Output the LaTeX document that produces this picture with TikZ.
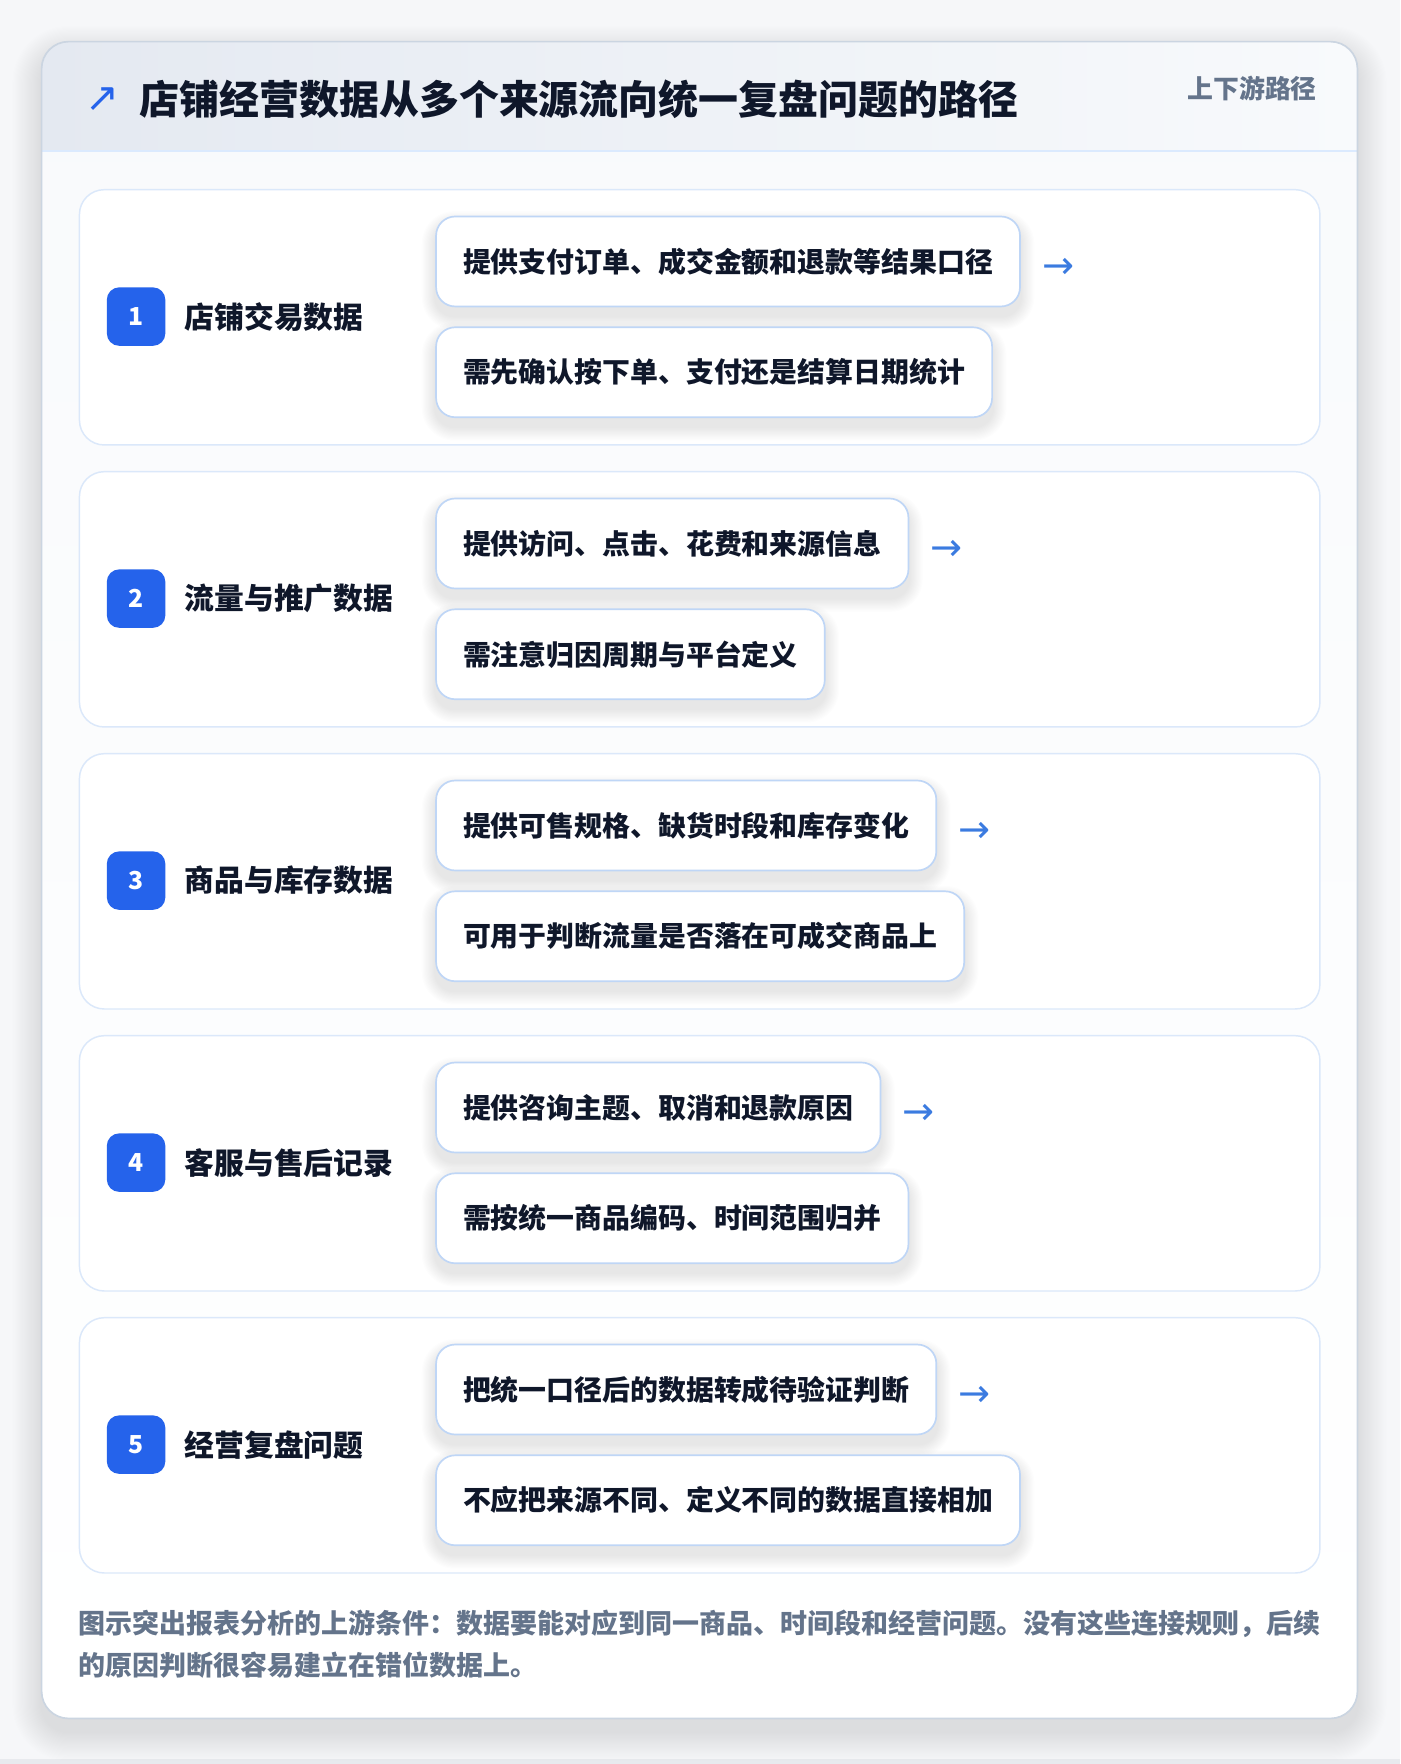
\documentclass[tikz,border=0pt]{standalone}
\usepackage{fontspec}
\setmainfont{Noto Sans CJK SC}[BoldFont={Noto Sans CJK SC Black}]
\newfontfamily\symfont{DejaVu Sans}
\usetikzlibrary{calc}
\definecolor{pagebg}{HTML}{F6F7F9}
\definecolor{cardline}{HTML}{CBD5E1}
\definecolor{bodytop}{HTML}{F8FAFC}
\definecolor{hdrL}{HTML}{E4E9F1}
\definecolor{hdrR}{HTML}{F8FAFC}
\definecolor{hdrline}{HTML}{DBEAFE}
\definecolor{panelline}{HTML}{DBE8FA}
\definecolor{boxline}{HTML}{BFD6F6}
\definecolor{badgeblue}{HTML}{2563EB}
\definecolor{ink}{HTML}{0F172A}
\definecolor{slate}{HTML}{64748B}
\definecolor{arrowblue}{HTML}{3B7BE0}
\definecolor{strip}{HTML}{E8EAEE}
\tikzset{
  panel/.style={draw=panelline, line width=1.3pt, fill=white, rounded corners=22pt,
    minimum width=1103pt, minimum height=227pt, anchor=north west, inner sep=0pt},
  badge/.style={fill=badgeblue, rounded corners=11pt, minimum size=52pt, inner sep=0pt,
    text=white, font=\fontsize{22}{22}\selectfont\bfseries},
  lbl/.style={anchor=west, inner sep=0pt, text=ink, font=\fontsize{26.5}{26.5}\selectfont\bfseries},
  item/.style={anchor=west, draw=boxline, line width=1.5pt, fill=white, rounded corners=17pt,
    minimum height=80pt, inner xsep=24pt, inner ysep=0pt, text=ink,
    font=\fontsize{24.8}{24.8}\selectfont\bfseries},
  ghost/.style={item, draw=none, fill=none},
  arr/.style={anchor=west, inner sep=0pt, text=arrowblue, font=\symfont\fontsize{34}{34}\selectfont},
  note/.style={anchor=west, inner sep=0pt, text=slate, font=\fontsize{24}{24}\selectfont\bfseries},
}
\newcommand{\boxshadow}[1]{%
  \foreach \k in {1,...,12}{%
    \fill[black, opacity=0.007, rounded corners=17pt+\k pt]
      ($(#1.north west)+(-\k,8-\k)$) rectangle ($(#1.south east)+(\k,8+\k)$);
  }%
}
\newcommand{\mkrow}[5]{%
  \node[panel] (p#1) at (70,#2) {};
  \node[badge] (n#1) at (121,#2+113.5) {#1};
  \node[lbl] (l#1) at (164,#2+113.5) {#3};
  \node[ghost] (ga#1) at (387,#2+64.5) {\phantom{#4}};
  \node[ghost] (gb#1) at (387,#2+163) {\phantom{#5}};
  \boxshadow{ga#1}
  \boxshadow{gb#1}
  \node[item] (a#1) at (387,#2+64.5) {#4};
  \node[item] (b#1) at (387,#2+163) {#5};
  \node[arr] (r#1) at ([shift={(19,6)}]a#1.east) {→};
}
\begin{document}
\begin{tikzpicture}[x=1pt,y=-1pt]
\useasboundingbox (0,0) rectangle (1245,1568.5);
\fill[pagebg] (0,0) rectangle (1245,1568.5);
\fill[strip] (0,1564) rectangle (1245,1568.5);
% card shadow
\foreach \k in {1,...,26}{%
  \fill[black, opacity=0.0045, rounded corners=24pt+\k pt]
    (37-\k,37-\k+12) rectangle (1207+\k,1528+\k+12);
}
% card
\fill[white, rounded corners=24pt] (37,37) rectangle (1207,1528);
\shade[rounded corners=24pt, top color=bodytop, bottom color=white] (37,37) rectangle (1207,1528);
\begin{scope}
  \clip[rounded corners=24pt] (37,37) rectangle (1207,1528);
  \shade[left color=hdrL, right color=hdrR] (37,37) rectangle (1207,134);
\end{scope}
\draw[hdrline, line width=1.5pt] (37,134) -- (1207,134);
\draw[cardline, line width=1.5pt, rounded corners=24pt] (37,37) rectangle (1207,1528);
% header texts
\node[text=badgeblue, font=\symfont\fontsize{36}{36}\selectfont, inner sep=0pt] (icon) at (91,89) {↗};
\node[anchor=west, inner sep=0pt, text=ink, font=\fontsize{35.5}{35.5}\selectfont\bfseries] (title) at (124,88)
  {店铺经营数据从多个来源流向统一复盘问题的路径};
\node[anchor=east, inner sep=0pt, text=slate, font=\fontsize{23}{23}\selectfont\bfseries] (tag) at (1171,79) {上下游路径};
% rows
\mkrow{1}{168}{店铺交易数据}{提供支付订单、成交金额和退款等结果口径}{需先确认按下单、支付还是结算日期统计}
\mkrow{2}{418.75}{流量与推广数据}{提供访问、点击、花费和来源信息}{需注意归因周期与平台定义}
\mkrow{3}{669.5}{商品与库存数据}{提供可售规格、缺货时段和库存变化}{可用于判断流量是否落在可成交商品上}
\mkrow{4}{920.25}{客服与售后记录}{提供咨询主题、取消和退款原因}{需按统一商品编码、时间范围归并}
\mkrow{5}{1171}{经营复盘问题}{把统一口径后的数据转成待验证判断}{不应把来源不同、定义不同的数据直接相加}
% footnote
\node[note] (f1) at (70,1444) {图示突出报表分析的上游条件：数据要能对应到同一商品、时间段和经营问题。没有这些连接规则，后续};
\node[note] (f2) at (70,1481) {的原因判断很容易建立在错位数据上。};
\end{tikzpicture}
\end{document}
